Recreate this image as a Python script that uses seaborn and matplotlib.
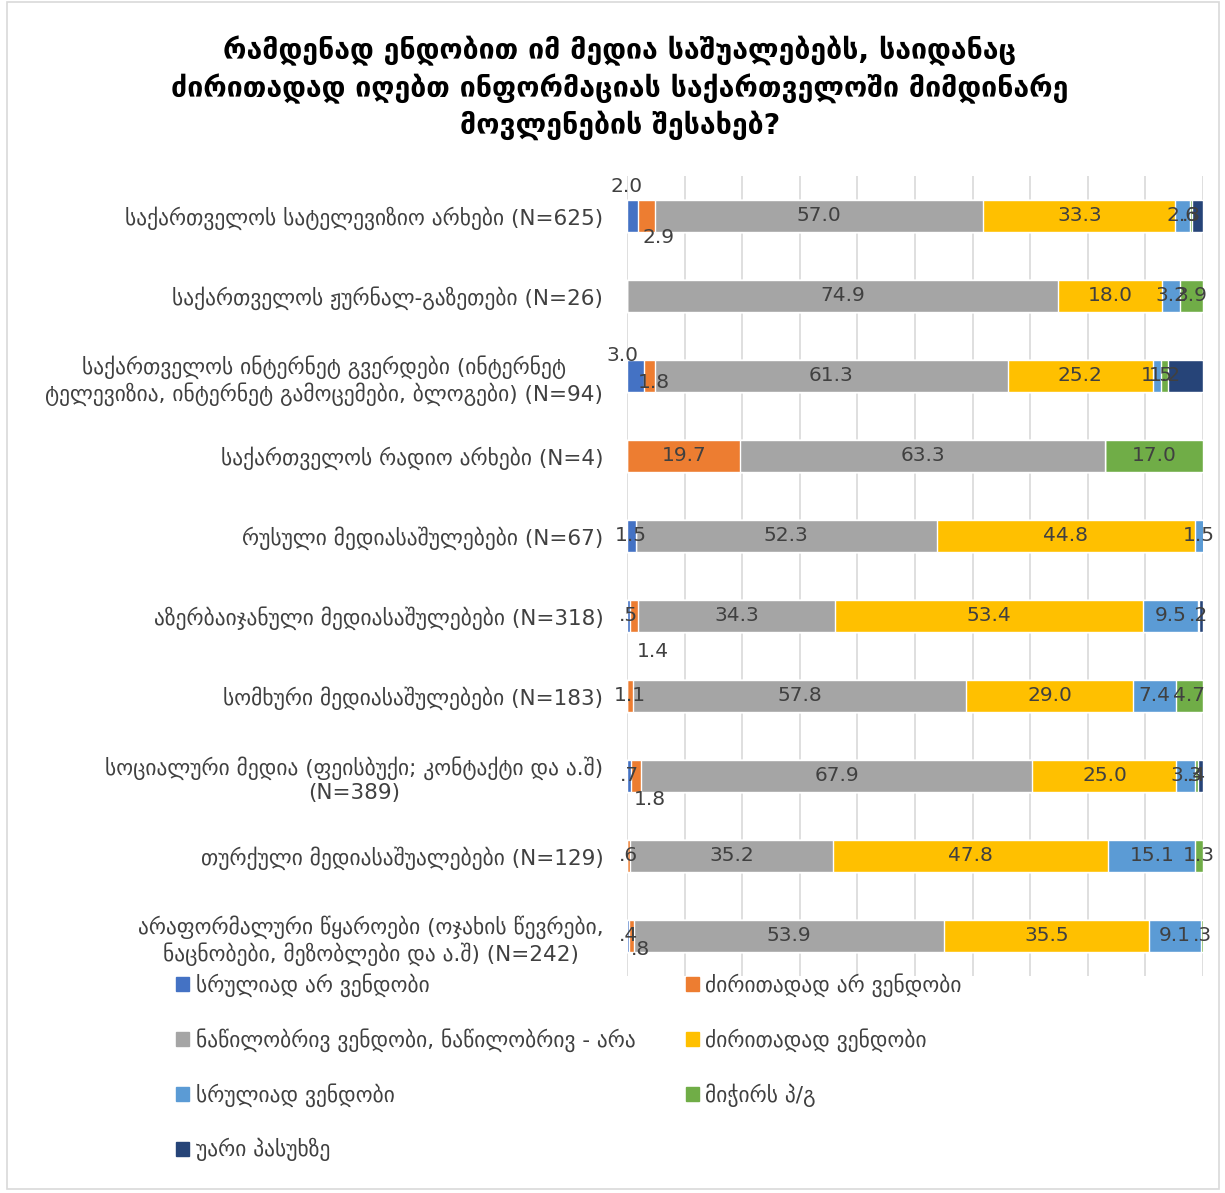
import matplotlib.pyplot as plt
import matplotlib.patches as mpatches
import numpy as np
import pandas as pd
import seaborn as sns

# categories (top to bottom)
categories = [
    "საქართველოს სატელევიზიო არხები (N=625)",
    "საქართველოს ჟურნალ-გაზეთები (N=26)",
    "საქართველოს ინტერნეტ გვერდები (ინტერნეტ\nტელევიზია, ინტერნეტ გამოცემები, ბლოგები) (N=94)",
    "საქართველოს რადიო არხები (N=4)",
    "რუსული მედიასაშულებები (N=67)",
    "აზერბაიჯანული მედიასაშულებები (N=318)",
    "სომხური მედიასაშულებები (N=183)",
    "სოციალური მედია (ფეისბუქი; კონტაქტი და ა.შ)\n(N=389)",
    "თურქული მედიასაშუალებები (N=129)",
    "არაფორმალური წყაროები (ოჯახის წევრები,\nნაცნობები, მეზობლები და ა.შ) (N=242)",
]

series_names = [
    "სრულიად არ ვენდობი",
    "ძირითადად არ ვენდობი",
    "ნაწილობრივ ვენდობი, ნაწილობრივ - არა",
    "ძირითადად ვენდობი",
    "სრულიად ვენდობი",
    "მიჭირს პ/გ",
    "უარი პასუხზე",
]

not_trust_at_all = [2.0, 0.0, 3.0, 0.0, 1.5, 0.5, 0.0, 0.7, 0.0, 0.4]
mostly_not_trust = [2.9, 0.0, 1.8, 19.7, 0.0, 1.4, 1.1, 1.8, 0.6, 0.8]
partly_trust = [57.0, 74.9, 61.3, 63.3, 52.3, 34.3, 57.8, 67.9, 35.2, 53.9]
mostly_trust = [33.3, 18.0, 25.2, 0.0, 44.8, 53.4, 29.0, 25.0, 47.8, 35.5]
fully_trust = [2.6, 3.2, 1.5, 0.0, 1.5, 9.5, 7.4, 3.3, 15.1, 9.1]
hard_to_say = [0.3, 3.9, 1.2, 17.0, 0.0, 0.2, 4.7, 0.4, 1.3, 0.3]
refused = [1.9, 0.0, 6.0, 0.0, 0.0, 0.7, 0.0, 0.9, 0.0, 0.0]

colors = ["#4472C4", "#ED7D31", "#A5A5A5", "#FFC000", "#5B9BD5", "#70AD47", "#264478"]

# manually moved labels: (row, series) -> (dx in %, dy in rows)
label_shift = {
    (0, 0): (-1.0, -0.37),
    (0, 1): (2.0, 0.27),
    (2, 0): (-2.3, -0.25),
    (2, 1): (0.8, 0.08),
    (5, 1): (3.3, 0.44),
    (7, 1): (2.3, 0.3),
    (9, 1): (1.6, 0.17),
}
# no-answer labels were not shown in the original
hide_series = {6}

sns.set_theme(style="white")
plt.rcParams["font.family"] = ["DejaVu Sans"]

data = np.array([not_trust_at_all, mostly_not_trust, partly_trust, mostly_trust,
                 fully_trust, hard_to_say, refused]).T
cum = np.cumsum(data, axis=1)

fig = plt.figure(figsize=(12.25, 11.93), dpi=100)
ax = fig.add_axes([0.5118, 0.1819, 0.4702, 0.6706])

# stacked bars: draw cumulative totals from last series to first
for k in range(len(series_names) - 1, -1, -1):
    df = pd.DataFrame({"value": cum[:, k], "cat": categories})
    sns.barplot(data=df, x="value", y="cat", color=colors[k], saturation=1,
                width=0.4, orient="h", ax=ax, zorder=2)

for i in range(len(categories)):
    for k in range(len(series_names)):
        v = data[i, k]
        if v <= 0 or k in hide_series:
            continue
        txt = f"{v:.1f}"
        if v < 1:
            txt = txt[1:]
        dx, dy = label_shift.get((i, k), (0, 0))
        ax.text(cum[i, k] - v / 2 + dx, i + dy, txt, ha="center", va="center",
                fontsize=14.5, color="#404040", zorder=5)

ax.set_xlim(0, 100)
ax.set_ylim(9.5, -0.5)
ax.set_xticks(range(0, 101, 10))
ax.set_xticklabels([])
ax.tick_params(axis="both", length=0)
ax.grid(axis="x", color="#d9d9d9", linewidth=1.2, zorder=0)
ax.set_axisbelow(True)
for s in ax.spines.values():
    s.set_visible(False)
ax.set_xlabel("")
ax.set_ylabel("")
for lab in ax.get_yticklabels():
    lab.set_fontsize(15.5)
    lab.set_color("#404040")
    lab.set_multialignment("center")
ax.tick_params(axis="y", pad=17)

fig.text(0.506, 0.926,
         "რამდენად ენდობით იმ მედია საშუალებებს, საიდანაც\n"
         "ძირითადად იღებთ ინფორმაციას საქართველოში მიმდინარე\n"
         "მოვლენების შესახებ?",
         ha="center", va="center", fontsize=20.5, fontweight="bold",
         color="black", linespacing=1.3)

handles = [mpatches.Patch(color=c, label=n) for c, n in zip(colors, series_names)]
order = [0, 2, 4, 6, 1, 3, 5]
fig.legend([handles[j] for j in order], [series_names[j] for j in order],
           loc="upper left", bbox_to_anchor=(0.128, 0.2005), ncol=2, frameon=False,
           fontsize=15.5, handlelength=0.6, handleheight=0.6, handletextpad=0.3,
           labelspacing=1.45, columnspacing=2.35, labelcolor="#404040")

fig.patches.append(mpatches.Rectangle((0.006, 0.003), 0.989, 0.995,
                                      transform=fig.transFigure, fill=False,
                                      edgecolor="#d9d9d9", linewidth=1.2))

fig.savefig("out.png", dpi=100)
